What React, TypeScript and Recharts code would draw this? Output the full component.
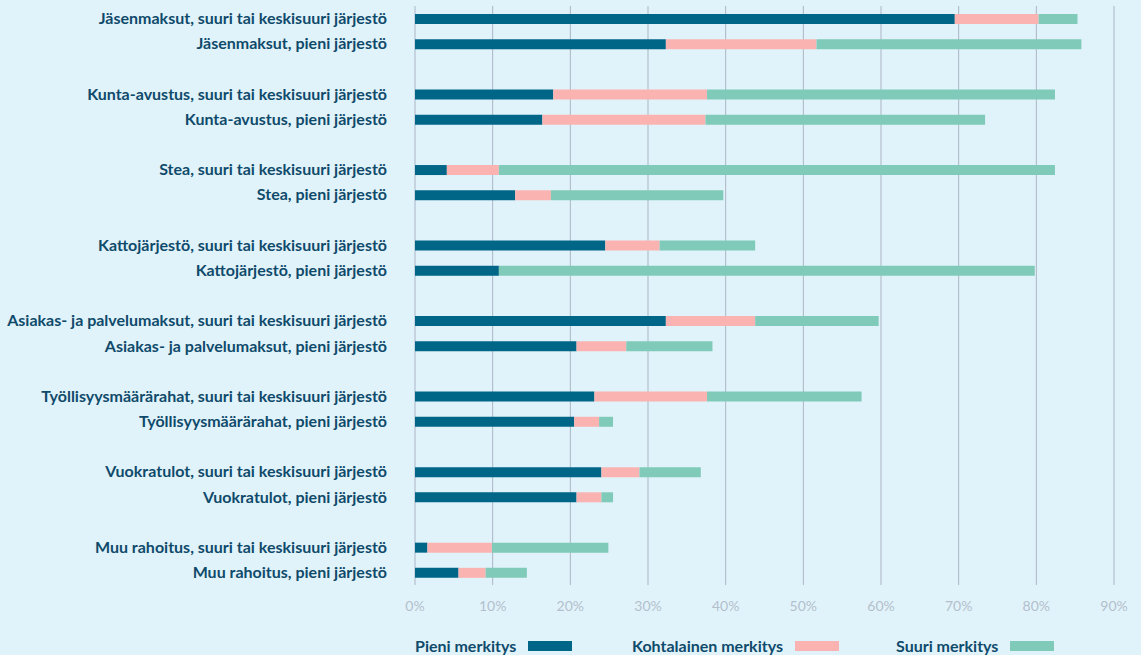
import React from 'react';
import { BarChart, Bar, XAxis, YAxis, CartesianGrid, Legend } from 'recharts';

// '' = empty spacer row between the source groups
const categories = [
  'Jäsenmaksut, suuri tai keskisuuri järjestö',
  'Jäsenmaksut, pieni järjestö',
  '',
  'Kunta-avustus, suuri tai keskisuuri järjestö',
  'Kunta-avustus, pieni järjestö',
  '',
  'Stea, suuri tai keskisuuri järjestö',
  'Stea, pieni järjestö',
  '',
  'Kattojärjestö, suuri tai keskisuuri järjestö',
  'Kattojärjestö, pieni järjestö',
  '',
  'Asiakas- ja palvelumaksut, suuri tai keskisuuri järjestö',
  'Asiakas- ja palvelumaksut, pieni järjestö',
  '',
  'Työllisyysmäärärahat, suuri tai keskisuuri järjestö',
  'Työllisyysmäärärahat, pieni järjestö',
  '',
  'Vuokratulot, suuri tai keskisuuri järjestö',
  'Vuokratulot, pieni järjestö',
  '',
  'Muu rahoitus, suuri tai keskisuuri järjestö',
  'Muu rahoitus, pieni järjestö',
];

const pieni = [69.5, 32.3, null, 17.8, 16.4, null, 4.1, 12.9, null, 24.5, 10.8, null, 32.3, 20.8, null, 23.1, 20.5, null, 24.0, 20.8, null, 1.6, 5.6];
const kohtalainen = [10.8, 19.4, null, 19.8, 21.0, null, 6.7, 4.6, null, 7.0, 0, null, 11.5, 6.4, null, 14.5, 3.2, null, 4.9, 3.2, null, 8.3, 3.5];
const suuri = [5.0, 34.1, null, 44.8, 36.0, null, 71.6, 22.2, null, 12.3, 69.0, null, 15.9, 11.1, null, 19.9, 1.8, null, 7.9, 1.5, null, 15.0, 5.3];

const xTicks = [0, 10, 20, 30, 40, 50, 60, 70, 80, 90];

const seriesNames = ['Pieni merkitys', 'Kohtalainen merkitys', 'Suuri merkitys'];
const COLORS = ['#006687', '#fab3b0', '#80cab9'];
const BG = '#e1f3fa';
const TEXT = '#0f4a6b';
const FONT = 'Lato, "Noto Sans", sans-serif';

const data = categories.map((name, i) => ({
  id: String(i),
  name,
  pieni: pieni[i],
  kohtalainen: kohtalainen[i],
  suuri: suuri[i],
}));

function LegendContent() {
  const left = [415, 632, 896];
  return (
    <div style={{ position: 'relative', height: 40, fontFamily: FONT }}>
      {seriesNames.map((n, i) => (
        <div
          key={n}
          style={{
            position: 'absolute', left: left[i], top: 21, display: 'flex', alignItems: 'center',
            fontWeight: 700, fontSize: 16, color: TEXT,
          }}
        >
          <span>{n}</span>
          <span style={{ display: 'inline-block', width: 44, height: 10, background: COLORS[i], marginLeft: 12 }} />
        </div>
      ))}
    </div>
  );
}

export default function App() {
  return (
    <div style={{ position: 'fixed', left: 0, top: 0, width: 1141, height: 655, background: BG }}>
      <BarChart
        width={1141}
        height={655}
        data={data}
        layout="vertical"
        margin={{ top: 6, right: 27, left: 0, bottom: 0 }}
        barCategoryGap={0}
      >
        <CartesianGrid horizontal={false} stroke="#aab5c5" />
        <XAxis
          type="number"
          domain={[0, 90]}
          ticks={xTicks}
          tickFormatter={(v) => `${v}%`}
          axisLine={false}
          tickLine={false}
          tickMargin={10}
          height={30}
          tick={{ fill: '#b3bfcd', fontSize: 14, fontFamily: FONT }}
        />
        <YAxis
          type="category"
          dataKey="id"
          width={415}
          axisLine={false}
          tickLine={false}
          tickSize={0}
          tickMargin={28}
          interval={0}
          tickFormatter={(v) => categories[Number(v)]}
          tick={{ fill: TEXT, fontSize: 16, fontWeight: 700, fontFamily: FONT }}
        />
        <Legend verticalAlign="bottom" height={40} content={() => <LegendContent />} />
        <Bar dataKey="pieni" stackId="a" fill={COLORS[0]} barSize={10} isAnimationActive={false} />
        <Bar dataKey="kohtalainen" stackId="a" fill={COLORS[1]} barSize={10} isAnimationActive={false} />
        <Bar dataKey="suuri" stackId="a" fill={COLORS[2]} barSize={10} isAnimationActive={false} />
      </BarChart>
    </div>
  );
}
